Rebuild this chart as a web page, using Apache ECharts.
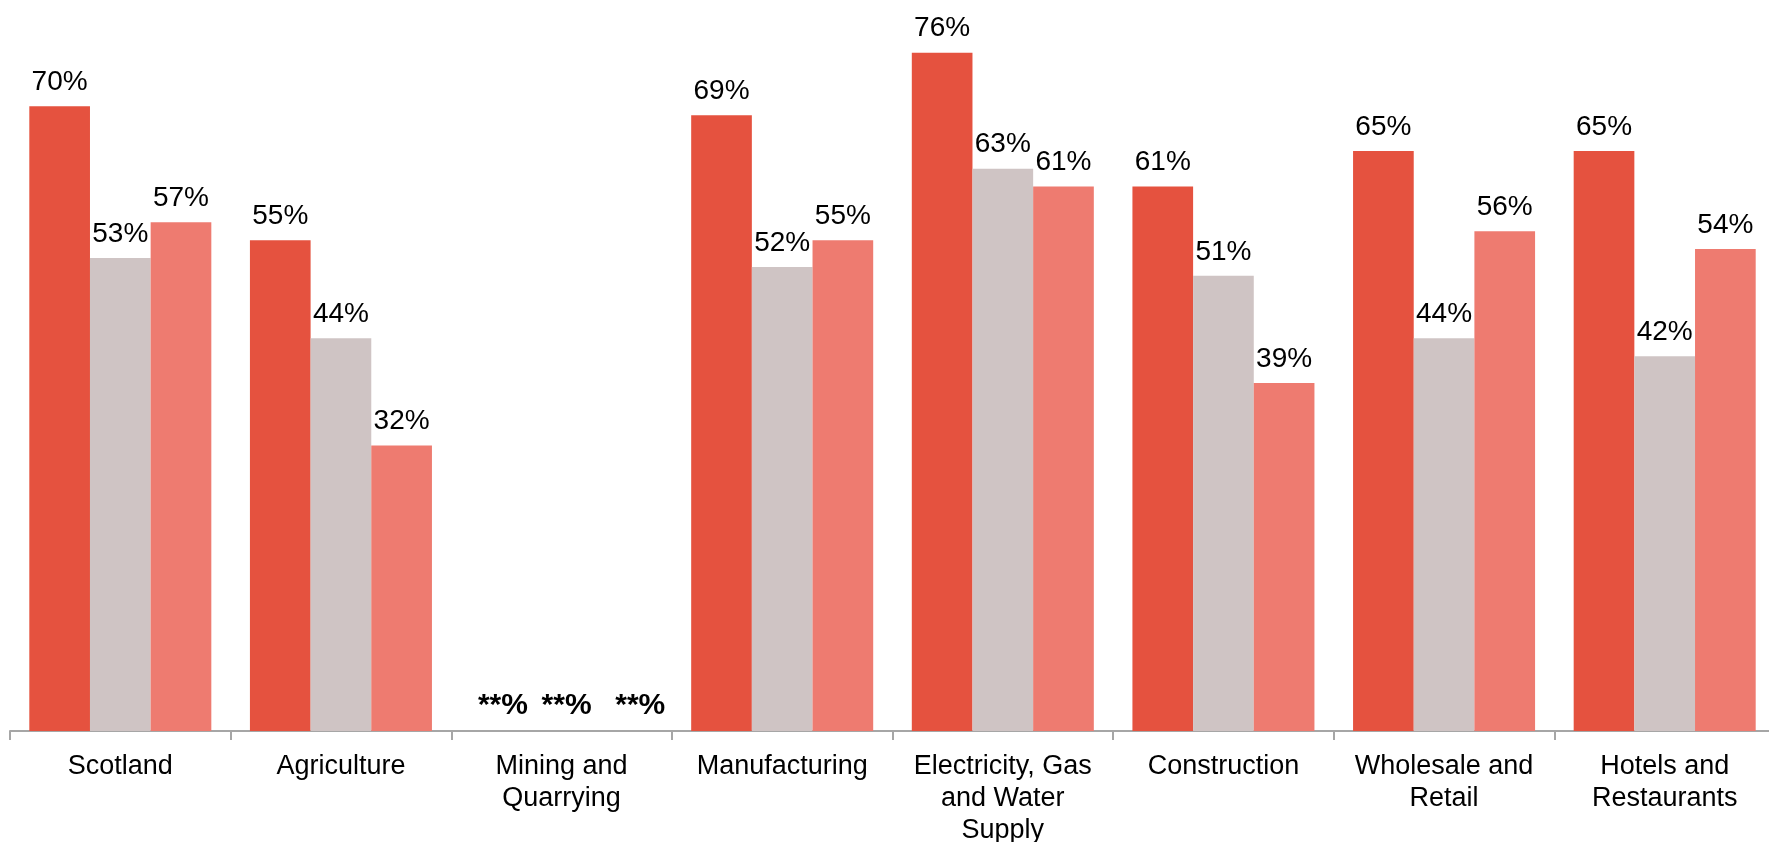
<html>
<head>
<meta charset="utf-8">
<script src="https://cdn.jsdelivr.net/npm/echarts@6/dist/echarts.min.js"></script>
<style>
  body { margin: 0; background: #fff; }
  #chart { width: 1769px; height: 842px; }
</style>
</head>
<body>
<div id="chart"></div>
<script type="text/javascript">

var categories = ['Scotland', 'Agriculture', 'Mining and\nQuarrying', 'Manufacturing',
    'Electricity, Gas\nand Water\nSupply', 'Construction', 'Wholesale and\nRetail', 'Hotels and\nRestaurants'];

// null = value suppressed in the source (shown as **%)
var seriesA = [70, 55, null, 69, 76, 61, 65, 65];
var seriesB = [53, 44, null, 52, 63, 51, 44, 42];
var seriesC = [57, 32, null, 55, 61, 39, 56, 54];
var suppressedLabel = '**%';

var colors = ['#E5523F', '#CFC4C4', '#EE7B70'];

function toData(arr, shift) {
    return arr.map(function (v) {
        if (v === null) {
            return {
                value: 0,
                label: { formatter: suppressedLabel, fontWeight: 'bold', fontSize: 30, offset: [shift, 0] }
            };
        }
        return v;
    });
}

function makeSeries(name, arr, color, shift) {
    return {
        name: name,
        type: 'bar',
        data: toData(arr, shift),
        barGap: 0,
        barCategoryGap: '17.5%',
        itemStyle: { color: color },
        label: {
            show: true,
            position: 'top',
            distance: 10,
            formatter: '{c}%',
            color: '#000',
            fontSize: 28,
            fontFamily: 'Liberation Sans, Arial, sans-serif'
        }
    };
}

var option = {
    animation: false,
    grid: { left: 10, width: 1765, top: 17, bottom: 111, containLabel: false, outerBoundsMode: 'none' },
    xAxis: {
        type: 'category',
        data: categories,
        axisLine: { lineStyle: { color: '#A6A6A6', width: 2 } },
        axisTick: { show: true, length: 9, lineStyle: { color: '#A6A6A6', width: 2 } },
        axisLabel: {
            interval: 0,
            margin: 20,
            color: '#000',
            fontSize: 27,
            lineHeight: 32,
            fontFamily: 'Liberation Sans, Arial, sans-serif'
        }
    },
    yAxis: {
        type: 'value',
        min: 0,
        max: 80,
        show: false,
        splitLine: { show: false }
    },
    series: [
        makeSeries('Series 1', seriesA, colors[0], 2),
        makeSeries('Series 2', seriesB, colors[1], 5),
        makeSeries('Series 3', seriesC, colors[2], 18)
    ]
};

var chart = echarts.init(document.getElementById('chart'));
chart.setOption(option);

</script>
</body>
</html>
